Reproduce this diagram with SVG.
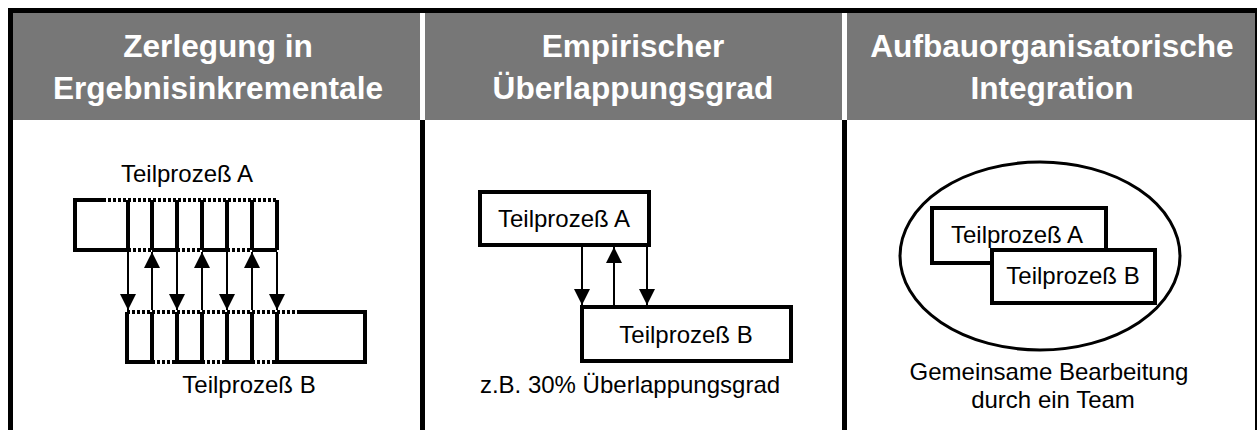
<svg xmlns="http://www.w3.org/2000/svg" width="1257" height="430" viewBox="0 0 1257 430">
<style>
.hd{font-family:"Liberation Sans",Arial,sans-serif;font-weight:bold;font-size:31.6px;fill:#ffffff;text-anchor:middle}
.tx{font-family:"Liberation Sans",Arial,sans-serif;font-size:24px;fill:#000000;text-anchor:middle}
.box{fill:#ffffff;stroke:#000;stroke-width:4}
.edge{fill:none;stroke:#000;stroke-width:4}
.dot{fill:none;stroke:#000;stroke-width:4;stroke-dasharray:3 2}
.ln{stroke:#000;stroke-width:2}
</style>
<defs>
<marker id="ah" viewBox="0 0 16 16" refX="16" refY="8" markerWidth="16" markerHeight="16" markerUnits="userSpaceOnUse" orient="auto">
<path d="M0,0 L16,8 L0,16 Z" fill="#000"/>
</marker>
</defs>
<rect width="1257" height="430" fill="#ffffff"/>
<g id="frame">
<rect x="13" y="13" width="1242" height="107" fill="#777777"/>
<rect x="8" y="8" width="1249" height="5" fill="#000"/>
<rect x="8" y="8" width="5" height="422" fill="#000"/>
<rect x="1255" y="8" width="2" height="422" fill="#000"/>
<rect x="420" y="13" width="5" height="107" fill="#fff"/>
<rect x="842" y="13" width="5" height="107" fill="#fff"/>
<rect x="420" y="120" width="5" height="310" fill="#000"/>
<rect x="842" y="120" width="5" height="310" fill="#000"/>
</g>
<g id="header1"><text class="hd" x="218" y="57">Zerlegung in</text><text class="hd" x="218" y="99">Ergebnisinkrementale</text></g>
<g id="header2"><text class="hd" x="633" y="57">Empirischer</text><text class="hd" x="633" y="99">Überlappungsgrad</text></g>
<g id="header3"><text class="hd" x="1052" y="57">Aufbauorganisatorische</text><text class="hd" x="1052" y="99">Integration</text></g>

<g id="col1-processA">
<text class="tx" x="187" y="182">Teilprozeß A</text>
<path class="edge" d="M103,200 H75 V250 H128 V200"/>
<path class="edge" d="M152,250 V200 M177,200 V250 M152,250 H177"/>
<path class="edge" d="M202,250 V200 M227,200 V250 M202,250 H227"/>
<path class="edge" d="M252,250 V200 M277,200 V250 M252,250 H277"/>
<line class="dot" x1="103" y1="200" x2="277" y2="200"/>
<line class="dot" x1="128" y1="250" x2="152" y2="250"/>
<line class="dot" x1="177" y1="250" x2="202" y2="250"/>
<line class="dot" x1="227" y1="250" x2="252" y2="250"/>
</g>
<g id="col1-processB">
<path class="edge" d="M127,312 V362 H152 V312"/>
<path class="edge" d="M177,312 V362 H202 V312"/>
<path class="edge" d="M227,312 V362 H252 V312"/>
<path class="edge" d="M300,312 H365 V362 H277 V312"/>
<line class="dot" x1="127" y1="312" x2="300" y2="312"/>
<line class="dot" x1="152" y1="362" x2="177" y2="362"/>
<line class="dot" x1="202" y1="362" x2="227" y2="362"/>
<line class="dot" x1="252" y1="362" x2="277" y2="362"/>
<text class="tx" x="249" y="393">Teilprozeß B</text>
</g>

<g id="col2-boxA"><rect class="box" x="480" y="192" width="169" height="53"/><text class="tx" x="564" y="227">Teilprozeß A</text></g>
<g id="col2-boxB"><rect class="box" x="582" y="307" width="209" height="54"/><text class="tx" x="686" y="343">Teilprozeß B</text></g>
<g id="col2-caption"><text class="tx" x="630" y="393">z.B. 30% Überlappungsgrad</text></g>

<g id="col3-team"><ellipse cx="1040" cy="256" rx="140" ry="94" fill="#fff" stroke="#000" stroke-width="3"/></g>
<g id="col3-boxA"><rect class="box" x="932" y="208" width="174" height="55"/><text class="tx" x="1017" y="243">Teilprozeß A</text></g>
<g id="col3-boxB"><rect class="box" x="992" y="250" width="163" height="53"/><text class="tx" x="1073" y="284">Teilprozeß B</text></g>
<g id="col3-caption"><text class="tx" x="1049" y="380">Gemeinsame Bearbeitung</text><text class="tx" x="1053" y="408">durch ein Team</text></g>

<g id="connectors">
<line class="ln" x1="128" y1="252" x2="128" y2="310" marker-end="url(#ah)"/>
<line class="ln" x1="177" y1="252" x2="177" y2="310" marker-end="url(#ah)"/>
<line class="ln" x1="227" y1="252" x2="227" y2="310" marker-end="url(#ah)"/>
<line class="ln" x1="277" y1="252" x2="277" y2="310" marker-end="url(#ah)"/>
<line class="ln" x1="152" y1="310" x2="152" y2="252" marker-end="url(#ah)"/>
<line class="ln" x1="202" y1="310" x2="202" y2="252" marker-end="url(#ah)"/>
<line class="ln" x1="252" y1="310" x2="252" y2="252" marker-end="url(#ah)"/>
<line class="ln" x1="582" y1="247" x2="582" y2="305" marker-end="url(#ah)"/>
<line class="ln" x1="614" y1="305" x2="614" y2="247" marker-end="url(#ah)"/>
<line class="ln" x1="647" y1="247" x2="647" y2="305" marker-end="url(#ah)"/>
</g>
</svg>
